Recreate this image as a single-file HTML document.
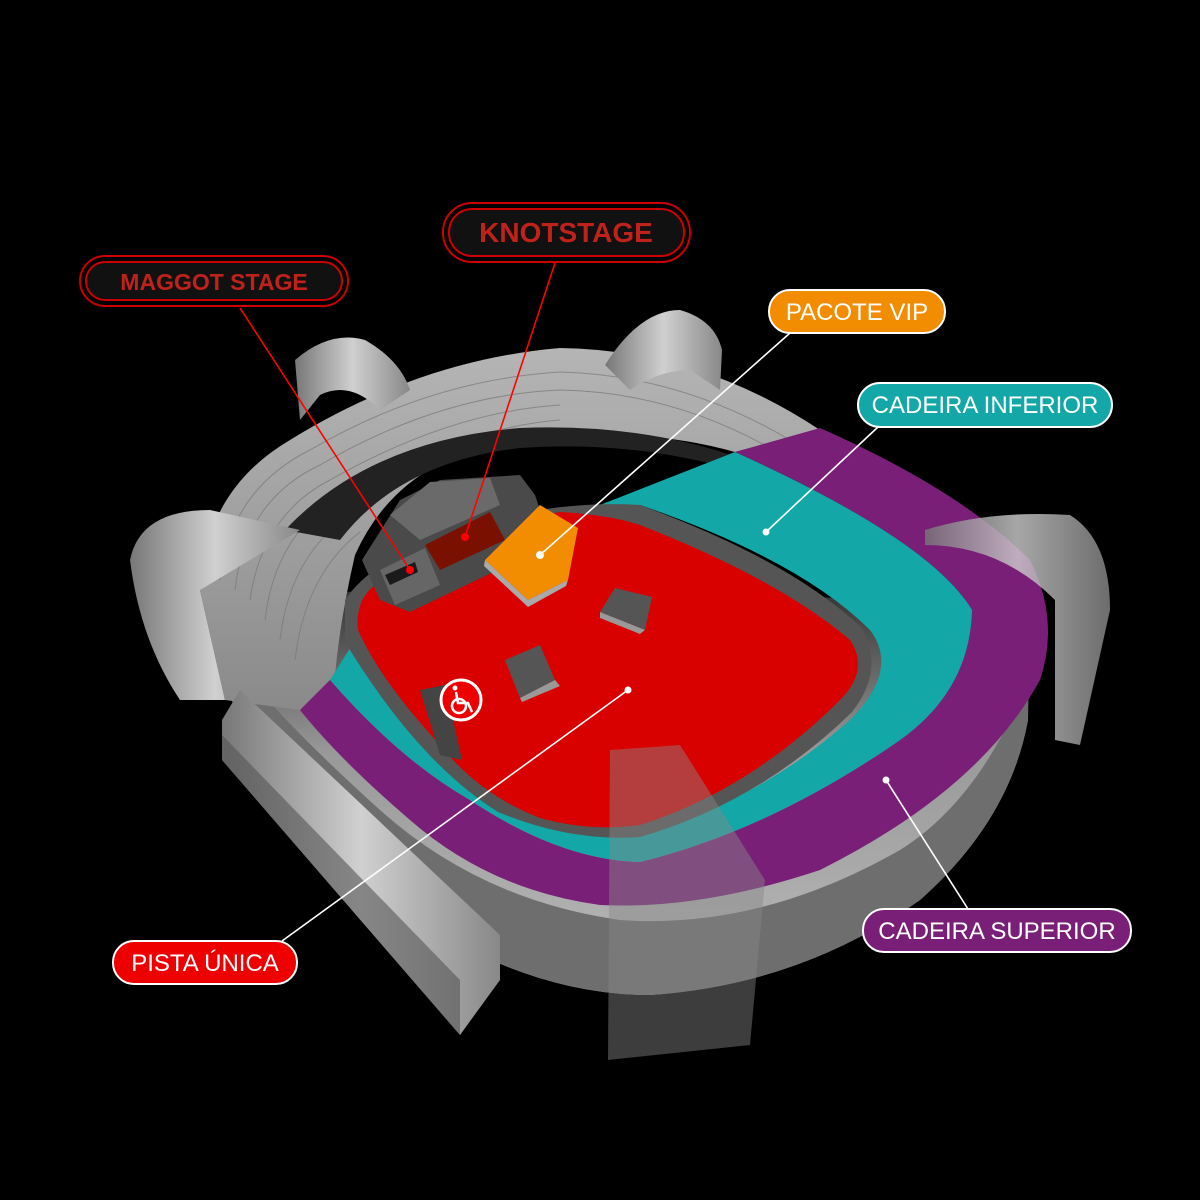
<!DOCTYPE html>
<html><head><meta charset="utf-8"><style>
html,body{margin:0;padding:0;background:#000;}
svg{display:block;}
text{font-family:"Liberation Sans",sans-serif;}
</style></head><body>
<svg width="1200" height="1200" viewBox="0 0 1200 1200" xmlns="http://www.w3.org/2000/svg">
<defs>
<linearGradient id="shellv" x1="0" y1="0" x2="0" y2="1">
<stop offset="0" stop-color="#333"/><stop offset="0.4" stop-color="#999"/><stop offset="1" stop-color="#bbb"/>
</linearGradient>
<linearGradient id="tower" x1="0" y1="0" x2="1" y2="0">
<stop offset="0" stop-color="#777"/><stop offset="0.5" stop-color="#d0d0d0"/><stop offset="1" stop-color="#888"/>
</linearGradient>
<linearGradient id="ring" x1="0" y1="0" x2="0" y2="1">
<stop offset="0" stop-color="#b5b5b5"/><stop offset="1" stop-color="#8a8a8a"/>
</linearGradient>
</defs>
<rect width="1200" height="1200" fill="#000"/>

<!-- base shell -->
<path d="M200,590 L225,690 Q330,860 470,950 Q560,995 650,995 Q800,985 920,900 Q1010,820 1028,720 L1030,600 Z" fill="url(#shellv)"/>
<path d="M225,690 Q330,860 470,950 Q560,995 650,995 Q800,985 920,900 Q1010,820 1028,720 L1028,680 Q980,800 900,850 Q760,930 620,920 Q480,900 380,810 Q280,720 225,650Z" fill="#6e6e6e"/>

<!-- gray upper ring back -->
<path d="M200,590 Q205,490 290,440 Q420,360 560,348 Q700,350 820,430 L735,452 Q640,425 520,440 Q400,455 355,555 Q340,620 335,675 L300,710 L225,700 Z" fill="url(#ring)"/>
<g stroke="#777" stroke-width="1" fill="none" opacity="0.7">
<path d="M220,580 Q230,490 310,450 Q430,380 560,372 Q680,375 790,440"/>
<path d="M235,590 Q245,500 320,465 Q440,395 560,390 Q670,392 770,448"/>
<path d="M250,600 Q262,515 330,480 Q450,412 560,405"/>
<path d="M265,620 Q275,535 340,495 Q460,428 560,420"/>
<path d="M280,640 Q290,555 350,515"/>
<path d="M295,660 Q305,575 360,532"/>
</g>
<!-- dark inner rim -->
<path d="M285,530 Q370,440 520,428 Q640,423 740,458 L735,470 Q630,440 520,448 Q400,462 340,540 Z" fill="#222"/>

<!-- purple tier -->
<path d="M735,452 L820,428 Q960,490 1030,560 Q1060,620 1040,680 Q980,790 820,870 Q700,910 600,905 Q490,890 410,820 Q340,760 300,710 L330,680 Q400,760 470,800 Q560,860 640,862 Q770,830 900,740 Q970,690 972,610 Q930,540 735,452Z" fill="#7a1f78"/>
<!-- teal tier -->
<path d="M600,505 L735,452 Q930,540 972,610 Q970,690 900,740 Q770,830 640,862 Q560,860 470,800 Q400,760 330,680 L355,640 Q430,760 500,810 Q570,840 640,835 Q760,800 850,720 Q900,670 870,630 Q800,560 640,505 Z" fill="#13a7a7"/>
<!-- gray inner wall -->
<path d="M345,600 Q375,555 470,525 Q560,500 640,505 Q790,560 862,628 Q885,670 852,712 Q760,802 640,837 Q570,842 498,812 Q418,762 345,642Z" fill="#555"/>
<!-- red field -->
<path d="M375,585 Q460,530 560,512 Q610,515 640,525 Q780,580 850,640 Q870,670 840,700 Q750,790 640,825 Q590,832 540,818 Q480,795 440,745 Q380,680 358,630 Q355,600 375,585Z" fill="#d90000"/>

<!-- stage -->
<path d="M362,560 L400,500 L440,480 L520,475 L535,495 L545,525 L560,540 L410,612 L380,600Z" fill="#4a4a4a"/>
<path d="M380,570 L425,548 L440,585 L395,605Z" fill="#666"/>
<path d="M385,575 L415,562 L418,572 L390,585Z" fill="#1a1a1a"/>
<path d="M425,545 L490,512 L505,540 L440,570Z" fill="#7a1000"/>
<path d="M390,515 L430,482 L490,478 L500,505 L420,540Z" fill="#6a6a6a"/>
<!-- VIP -->
<path d="M485,560 L540,505 L578,528 L568,580 L528,600Z" fill="#f28c00"/>
<path d="M485,560 L528,600 L568,580 L566,586 L528,607 L484,566Z" fill="#aaa"/>

<!-- towers on field -->
<path d="M600,612 L615,588 L652,597 L645,630 Z" fill="#555"/>
<path d="M600,612 L645,630 L640,634 L600,618Z" fill="#999"/>
<path d="M505,660 L540,645 L555,680 L520,698Z" fill="#555"/>
<path d="M520,698 L555,680 L560,686 L522,702Z" fill="#999"/>
<!-- wheelchair -->
<path d="M420,690 L445,685 L462,760 L440,755Z" fill="#444"/>
<circle cx="461" cy="700" r="20" fill="#e00" stroke="#fff" stroke-width="3"/>
<g fill="none" stroke="#fff" stroke-width="2.5">
<circle cx="459" cy="706" r="7"/>
<path d="M456,692 L458,703 L468,703 L472,712"/>
</g>
<circle cx="455" cy="688" r="2.5" fill="#fff"/>

<!-- corner towers -->
<path d="M130,560 Q140,510 210,510 L300,530 L200,590 L225,700 L180,700 Q140,640 130,560Z" fill="url(#tower)"/>
<path d="M295,360 Q330,330 365,340 Q400,360 410,390 L380,410 Q350,380 320,395 L300,420Z" fill="url(#tower)"/>
<path d="M605,365 Q640,310 680,310 Q715,320 722,350 L720,390 L690,370 Q660,370 630,390Z" fill="url(#tower)"/>
<path d="M925,530 Q990,510 1070,515 Q1110,540 1110,610 L1080,745 L1055,740 L1055,600 Q1000,545 925,545Z" fill="url(#tower)" opacity="0.8"/>
<!-- left long block -->
<path d="M222,720 L240,690 L500,935 L500,980 L460,1035 L222,760Z" fill="url(#tower)"/>
<path d="M222,760 L460,1035 L460,980 L222,735Z" fill="#555" opacity="0.6"/>
<!-- translucent front tower -->
<path d="M610,750 L680,745 L765,880 L750,1045 L608,1060Z" fill="#888" opacity="0.45"/>

<!-- connector lines -->
<g stroke-width="1.6">
<line x1="240" y1="308" x2="410" y2="570" stroke="#f00"/>
<line x1="555" y1="263" x2="465" y2="537" stroke="#f00"/>
<line x1="790" y1="333" x2="540" y2="555" stroke="#fff"/>
<line x1="878" y1="427" x2="766" y2="532" stroke="#fff"/>
<line x1="886" y1="780" x2="968" y2="909" stroke="#fff"/>
<line x1="628" y1="690" x2="282" y2="941" stroke="#fff"/>
</g>
<circle cx="410" cy="570" r="4" fill="#f00"/>
<circle cx="465" cy="537" r="4" fill="#f00"/>
<circle cx="540" cy="555" r="4" fill="#fff"/>
<circle cx="766" cy="532" r="3.5" fill="#fff"/>
<circle cx="886" cy="780" r="3.5" fill="#fff"/>
<circle cx="628" cy="690" r="3.5" fill="#fff"/>

<!-- labels -->
<rect x="80" y="256" width="268" height="50" rx="25" fill="#000" stroke="#c00" stroke-width="2"/>
<rect x="86" y="262" width="256" height="38" rx="19" fill="#111" stroke="#c00" stroke-width="2"/>
<text x="214" y="290" text-anchor="middle" font-size="23" font-weight="bold" fill="#c0211a">MAGGOT STAGE</text>
<rect x="443" y="203" width="247" height="59" rx="29" fill="#000" stroke="#c00" stroke-width="2"/>
<rect x="449" y="209" width="235" height="47" rx="23" fill="#111" stroke="#c00" stroke-width="2"/>
<text x="566" y="242" text-anchor="middle" font-size="28" font-weight="bold" fill="#c0211a">KNOTSTAGE</text>
<rect x="769" y="290" width="176" height="43" rx="21" fill="#f28c00" stroke="#fff" stroke-width="2"/>
<text x="857" y="320" text-anchor="middle" font-size="24" fill="#fff">PACOTE VIP</text>
<rect x="858" y="383" width="254" height="44" rx="22" fill="#13a7a7" stroke="#fff" stroke-width="2"/>
<text x="985" y="413" text-anchor="middle" font-size="24" fill="#fff">CADEIRA INFERIOR</text>
<rect x="863" y="909" width="268" height="43" rx="21" fill="#7a1f78" stroke="#fff" stroke-width="2"/>
<text x="997" y="939" text-anchor="middle" font-size="24" fill="#fff">CADEIRA SUPERIOR</text>
<rect x="113" y="941" width="184" height="43" rx="21" fill="#e00" stroke="#fff" stroke-width="2"/>
<text x="205" y="971" text-anchor="middle" font-size="24" fill="#fff">PISTA ÚNICA</text>
</svg>
</body></html>
